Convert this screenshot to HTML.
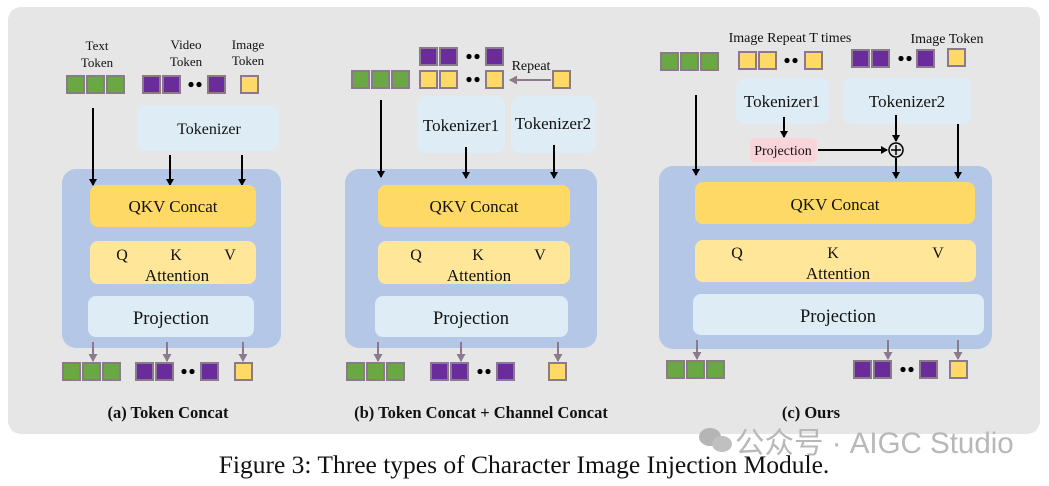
<!DOCTYPE html>
<html><head><meta charset="utf-8"><style>
html,body{margin:0;padding:0;background:#fff;width:1049px;height:486px;overflow:hidden}
svg text{font-family:"Liberation Serif",serif;fill:#111}
</style></head><body>
<svg width="1049" height="486" viewBox="0 0 1049 486" xmlns="http://www.w3.org/2000/svg">
<defs>
<marker id="ab" markerWidth="8" markerHeight="8" refX="6" refY="4" orient="auto" markerUnits="userSpaceOnUse"><path d="M0,0 L7,4 L0,8 Z" fill="#000"/></marker>
<marker id="ag" markerWidth="9" markerHeight="9" refX="7" refY="4.5" orient="auto" markerUnits="userSpaceOnUse"><path d="M0,0 L8,4.5 L0,9 Z" fill="#8a7a8c"/></marker>
<g id="g"><rect x="1" y="1" width="17" height="17" fill="#6aa843" stroke="#8a7a8c" stroke-width="2"/></g>
<g id="p"><rect x="1" y="1" width="17" height="17" fill="#6b2c9b" stroke="#8a7a8c" stroke-width="2"/></g>
<g id="y"><rect x="1" y="1" width="17" height="17" fill="#ffd966" stroke="#8a7a8c" stroke-width="2"/></g>
<g id="d"><circle cx="4" cy="9.5" r="2.6" fill="#000"/><circle cx="12" cy="9.5" r="2.6" fill="#000"/></g>
</defs>
<rect x="8" y="7" width="1032" height="427" rx="13" fill="#e6e6e6"/>

<!-- Panel A -->
<text x="97" y="50" font-size="13" text-anchor="middle">Text</text>
<text x="97" y="67" font-size="13" text-anchor="middle">Token</text>
<text x="186" y="49" font-size="13" text-anchor="middle">Video</text>
<text x="186" y="66" font-size="13" text-anchor="middle">Token</text>
<text x="248" y="49" font-size="13" text-anchor="middle">Image</text>
<text x="248" y="65" font-size="13" text-anchor="middle">Token</text>
<use href="#g" x="66" y="75"/><use href="#g" x="86" y="75"/><use href="#g" x="106" y="75"/>
<use href="#p" x="142" y="75"/><use href="#p" x="162" y="75"/><use href="#d" x="187" y="75"/><use href="#p" x="207" y="75"/>
<use href="#y" x="240" y="75"/>
<rect x="137" y="105" width="142" height="46" rx="9" fill="#deedf5"/>
<text x="209" y="134" font-size="16" text-anchor="middle">Tokenizer</text>
<rect x="62" y="169" width="219" height="179" rx="14" fill="#b4c7e7"/>
<line x1="93" y1="108" x2="93" y2="185" stroke="#000" stroke-width="2" marker-end="url(#ab)"/>
<line x1="170" y1="155" x2="170" y2="185" stroke="#000" stroke-width="2" marker-end="url(#ab)"/>
<line x1="242" y1="155" x2="242" y2="185" stroke="#000" stroke-width="2" marker-end="url(#ab)"/>
<rect x="90" y="185" width="166" height="42" rx="8" fill="#ffd966"/>
<text x="173" y="212" font-size="17" text-anchor="middle">QKV Concat</text>
<rect x="90" y="241" width="166" height="43" rx="8" fill="#ffe699"/>
<text x="122" y="260" font-size="16" text-anchor="middle">Q</text>
<text x="176" y="260" font-size="16" text-anchor="middle">K</text>
<text x="230" y="260" font-size="16" text-anchor="middle">V</text>
<text x="177" y="281" font-size="17" text-anchor="middle">Attention</text>
<rect x="88" y="296" width="166" height="41" rx="8" fill="#deedf5"/>
<text x="171" y="324" font-size="18.5" text-anchor="middle">Projection</text>
<line x1="93" y1="342" x2="93" y2="361" stroke="#8a7a8c" stroke-width="2" marker-end="url(#ag)"/>
<line x1="167" y1="342" x2="167" y2="361" stroke="#8a7a8c" stroke-width="2" marker-end="url(#ag)"/>
<line x1="243" y1="342" x2="243" y2="361" stroke="#8a7a8c" stroke-width="2" marker-end="url(#ag)"/>
<use href="#g" x="62" y="362"/><use href="#g" x="82" y="362"/><use href="#g" x="102" y="362"/>
<use href="#p" x="135" y="362"/><use href="#p" x="155" y="362"/><use href="#d" x="180" y="362"/><use href="#p" x="200" y="362"/>
<use href="#y" x="234" y="362"/>
<text x="168" y="418" font-size="16.5" font-weight="bold" text-anchor="middle">(a) Token Concat</text>

<!-- Panel B -->
<use href="#p" x="419" y="47"/><use href="#p" x="439" y="47"/><use href="#d" x="465" y="47"/><use href="#p" x="485" y="47"/>
<use href="#g" x="351" y="70"/><use href="#g" x="371" y="70"/><use href="#g" x="391" y="70"/>
<use href="#y" x="419" y="70"/><use href="#y" x="439" y="70"/><use href="#d" x="465" y="70"/><use href="#y" x="485" y="70"/>
<use href="#y" x="552" y="70"/>
<text x="531" y="70" font-size="14" text-anchor="middle">Repeat</text>
<line x1="551" y1="80" x2="510" y2="80" stroke="#8a7a8c" stroke-width="2" marker-end="url(#ag)"/>
<rect x="417" y="96" width="88" height="57" rx="9" fill="#deedf5"/>
<text x="461" y="131" font-size="17" text-anchor="middle">Tokenizer1</text>
<rect x="511" y="96" width="85" height="57" rx="9" fill="#deedf5"/>
<text x="553" y="129" font-size="17" text-anchor="middle">Tokenizer2</text>
<rect x="345" y="169" width="252" height="179" rx="14" fill="#b4c7e7"/>
<line x1="381" y1="100" x2="381" y2="177" stroke="#000" stroke-width="2" marker-end="url(#ab)"/>
<line x1="466" y1="147" x2="466" y2="178" stroke="#000" stroke-width="2" marker-end="url(#ab)"/>
<line x1="554" y1="145" x2="554" y2="178" stroke="#000" stroke-width="2" marker-end="url(#ab)"/>
<rect x="378" y="185" width="192" height="42" rx="8" fill="#ffd966"/>
<text x="474" y="212" font-size="17" text-anchor="middle">QKV Concat</text>
<rect x="378" y="241" width="192" height="43" rx="8" fill="#ffe699"/>
<text x="416" y="260" font-size="16" text-anchor="middle">Q</text>
<text x="478" y="260" font-size="16" text-anchor="middle">K</text>
<text x="540" y="260" font-size="16" text-anchor="middle">V</text>
<text x="479" y="281" font-size="17" text-anchor="middle">Attention</text>
<rect x="375" y="296" width="193" height="41" rx="8" fill="#deedf5"/>
<text x="471" y="324" font-size="18.5" text-anchor="middle">Projection</text>
<line x1="378" y1="342" x2="378" y2="361" stroke="#8a7a8c" stroke-width="2" marker-end="url(#ag)"/>
<line x1="461" y1="342" x2="461" y2="361" stroke="#8a7a8c" stroke-width="2" marker-end="url(#ag)"/>
<line x1="558" y1="342" x2="558" y2="361" stroke="#8a7a8c" stroke-width="2" marker-end="url(#ag)"/>
<use href="#g" x="346" y="362"/><use href="#g" x="366" y="362"/><use href="#g" x="386" y="362"/>
<use href="#p" x="430" y="362"/><use href="#p" x="450" y="362"/><use href="#d" x="476" y="362"/><use href="#p" x="496" y="362"/>
<use href="#y" x="548" y="362"/>
<text x="481" y="418" font-size="16.5" font-weight="bold" text-anchor="middle">(b) Token Concat + Channel Concat</text>

<!-- Panel C -->
<text x="790" y="42" font-size="14" text-anchor="middle">Image Repeat T times</text>
<text x="947" y="43" font-size="14" text-anchor="middle">Image Token</text>
<use href="#g" x="660" y="52"/><use href="#g" x="680" y="52"/><use href="#g" x="700" y="52"/>
<use href="#y" x="738" y="51"/><use href="#y" x="758" y="51"/><use href="#d" x="783" y="51"/><use href="#y" x="804" y="51"/>
<use href="#p" x="851" y="49"/><use href="#p" x="871" y="49"/><use href="#d" x="897" y="49"/><use href="#p" x="916" y="49"/>
<use href="#y" x="947" y="48"/>
<rect x="736" y="78" width="93" height="46" rx="9" fill="#deedf5"/>
<text x="782" y="107" font-size="17" text-anchor="middle">Tokenizer1</text>
<rect x="843" y="78" width="128" height="46" rx="9" fill="#deedf5"/>
<text x="907" y="107" font-size="17" text-anchor="middle">Tokenizer2</text>
<rect x="750" y="138" width="67" height="24" rx="5" fill="#f9d5d9"/>
<text x="783" y="155" font-size="14" text-anchor="middle">Projection</text>
<line x1="784" y1="117" x2="784" y2="137" stroke="#000" stroke-width="2" marker-end="url(#ab)"/>
<line x1="818" y1="150" x2="887" y2="150" stroke="#000" stroke-width="2" marker-end="url(#ab)"/>
<circle cx="896" cy="150" r="7" fill="none" stroke="#000" stroke-width="1.5"/>
<line x1="891" y1="150" x2="901" y2="150" stroke="#000" stroke-width="1.5"/>
<line x1="896" y1="145" x2="896" y2="155" stroke="#000" stroke-width="1.5"/>
<rect x="659" y="166" width="333" height="183" rx="14" fill="#b4c7e7"/>
<line x1="896" y1="115" x2="896" y2="141" stroke="#000" stroke-width="2" marker-end="url(#ab)"/>
<line x1="896" y1="158" x2="896" y2="178" stroke="#000" stroke-width="2" marker-end="url(#ab)"/>
<line x1="958" y1="124" x2="958" y2="178" stroke="#000" stroke-width="2" marker-end="url(#ab)"/>
<line x1="696" y1="95" x2="696" y2="175" stroke="#000" stroke-width="2" marker-end="url(#ab)"/>
<rect x="695" y="182" width="280" height="42" rx="8" fill="#ffd966"/>
<text x="835" y="210" font-size="17" text-anchor="middle">QKV Concat</text>
<rect x="695" y="240" width="281" height="42" rx="8" fill="#ffe699"/>
<text x="737" y="258" font-size="16" text-anchor="middle">Q</text>
<text x="833" y="258" font-size="16" text-anchor="middle">K</text>
<text x="938" y="258" font-size="16" text-anchor="middle">V</text>
<text x="838" y="279" font-size="17" text-anchor="middle">Attention</text>
<rect x="693" y="294" width="291" height="41" rx="8" fill="#deedf5"/>
<text x="838" y="322" font-size="18.5" text-anchor="middle">Projection</text>
<line x1="697" y1="340" x2="697" y2="359" stroke="#8a7a8c" stroke-width="2" marker-end="url(#ag)"/>
<line x1="888" y1="340" x2="888" y2="359" stroke="#8a7a8c" stroke-width="2" marker-end="url(#ag)"/>
<line x1="958" y1="340" x2="958" y2="359" stroke="#8a7a8c" stroke-width="2" marker-end="url(#ag)"/>
<use href="#g" x="666" y="360"/><use href="#g" x="686" y="360"/><use href="#g" x="706" y="360"/>
<use href="#p" x="853" y="360"/><use href="#p" x="873" y="360"/><use href="#d" x="899" y="360"/><use href="#p" x="919" y="360"/>
<use href="#y" x="949" y="360"/>
<text x="811" y="418" font-size="16.5" font-weight="bold" text-anchor="middle">(c) Ours</text>

<!-- watermark -->
<ellipse cx="710" cy="437" rx="11" ry="9" fill="#b5b5b5"/>
<ellipse cx="722" cy="444" rx="10" ry="8" fill="#c0c0c0"/>
<text x="735" y="453" font-size="29.5" style="font-family:'Liberation Sans','Noto Sans CJK SC',sans-serif;fill:#b8b8b8">公众号 · AIGC Studio</text>

<text x="524" y="473" font-size="25.5" text-anchor="middle">Figure 3: Three types of Character Image Injection Module.</text>
</svg>
</body></html>
